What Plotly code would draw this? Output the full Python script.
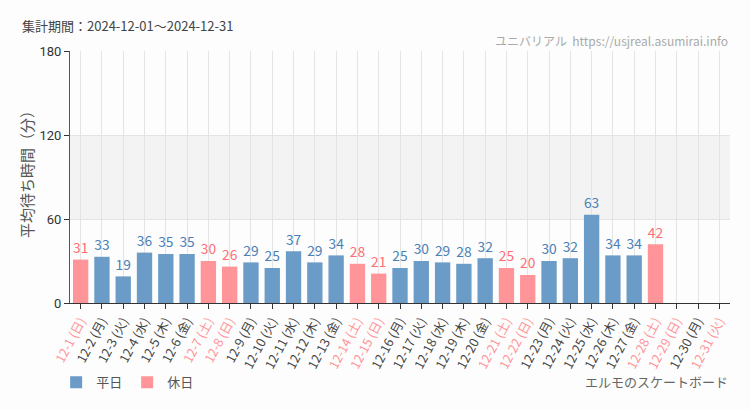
import plotly.graph_objects as go

dates = ["12-1", "12-2", "12-3", "12-4", "12-5", "12-6", "12-7", "12-8", "12-9", "12-10",
         "12-11", "12-12", "12-13", "12-14", "12-15", "12-16", "12-17", "12-18", "12-19", "12-20",
         "12-21", "12-22", "12-23", "12-24", "12-25", "12-26", "12-27", "12-28", "12-29", "12-30", "12-31"]
weekdays = ["日", "月", "火", "水", "木", "金", "土", "日", "月", "火",
            "水", "木", "金", "土", "日", "月", "火", "水", "木", "金",
            "土", "日", "月", "火", "水", "木", "金", "土", "日", "月", "火"]
holiday = [1, 0, 0, 0, 0, 0, 1, 1, 0, 0,
           0, 0, 0, 1, 1, 0, 0, 0, 0, 0,
           1, 1, 0, 0, 0, 0, 0, 1, 1, 0, 1]
values = [31, 33, 19, 36, 35, 35, 30, 26, 29, 25,
          37, 29, 34, 28, 21, 25, 30, 29, 28, 32,
          25, 20, 30, 32, 63, 34, 34, 42, None, None, None]
yticks = [0, 60, 120, 180]

BLUE = "#6b9bc7"
PINK = "#ff9499"
BLUE_T = "#4a7fb8"
PINK_T = "#ff6e78"
JP = "Noto Sans CJK JP"

wd_vals = [v if (v is not None and not h) else None for v, h in zip(values, holiday)]
hd_vals = [v if (v is not None and h) else None for v, h in zip(values, holiday)]

ticktext = []
for d, w, h in zip(dates, weekdays, holiday):
    c = PINK if h else "#444444"
    ticktext.append(f'<span style="color:{c}">{d} ({w})</span>')

fig = go.Figure()
fig.add_trace(go.Bar(
    x=dates, y=wd_vals, name="平日", marker=dict(color=BLUE, line=dict(width=0)),
    width=0.72, text=[str(v) if v is not None else "" for v in wd_vals],
    textposition="outside", textfont=dict(color=BLUE_T, size=15, family=JP),
    cliponaxis=False, hoverinfo="x+y"))
fig.add_trace(go.Bar(
    x=dates, y=hd_vals, name="休日", marker=dict(color=PINK, line=dict(width=0)),
    width=0.72, text=[str(v) if v is not None else "" for v in hd_vals],
    textposition="outside", textfont=dict(color=PINK_T, size=15, family=JP),
    cliponaxis=False, hoverinfo="x+y"))

fig.add_shape(type="rect", xref="paper", yref="y", x0=0, x1=1, y0=60, y1=120,
              fillcolor="#f3f3f3", line=dict(width=0), layer="below")

fig.update_layout(
    width=750, height=410,
    margin=dict(l=70, r=20, t=51, b=105),
    paper_bgcolor="#fcfdfc", plot_bgcolor="#fcfdfc",
    barmode="overlay", bargap=0.28,
    font=dict(family=JP, color="#444444"),
    showlegend=True,
    legend=dict(orientation="h", x=-0.021, xanchor="left", y=-0.315, yanchor="middle",
                font=dict(size=13, color="#555555", family=JP), itemwidth=30,
                traceorder="normal"),
    xaxis=dict(
        type="category", tickmode="array", tickvals=dates, ticktext=ticktext,
        tickangle=-62, tickfont=dict(size=12.5, family=JP),
        showgrid=True, gridcolor="#e4e4e4", gridwidth=1,
        showline=True, linecolor="#333333", linewidth=1,
        ticks="outside", ticklen=5, tickcolor="#333333",
        range=[-0.5, 30.5], fixedrange=True),
    yaxis=dict(
        range=[0, 180], tickvals=yticks, showgrid=True, gridcolor="#e4e4e4",
        showline=True, linecolor="#555555", linewidth=1,
        ticks="outside", ticklen=5, tickcolor="#333333",
        tickfont=dict(size=13, color="#333333", family="Roboto"),
        zeroline=False, fixedrange=True),
)

fig.add_annotation(xref="paper", yref="paper", x=(26 - 70) / 660, y=1 - (172 - 51) / 254,
                   xanchor="center", yanchor="middle", showarrow=False, textangle=-90,
                   text="平均待ち時間（分）",
                   font=dict(size=15, color="#555555", family=JP))
fig.add_annotation(xref="paper", yref="paper", x=(20 - 70) / 660, y=1 + (51 - 25) / 254,
                   xanchor="left", yanchor="middle", showarrow=False,
                   text="集計期間：2024-12-01～2024-12-31",
                   font=dict(size=13, color="#444444", family=JP))
fig.add_annotation(xref="paper", yref="paper", x=1, y=1 + (51 - 40) / 254,
                   xanchor="right", yanchor="middle", showarrow=False,
                   text="ユニバリアル  https://usjreal.asumirai.info",
                   font=dict(size=12, color="#aaaaaa", family=JP))
fig.add_annotation(xref="paper", yref="paper", x=1, y=-(384 - 305) / 254,
                   xanchor="right", yanchor="middle", showarrow=False,
                   text="エルモのスケートボード",
                   font=dict(size=13, color="#666666", family=JP))

fig.write_html("out.html")
